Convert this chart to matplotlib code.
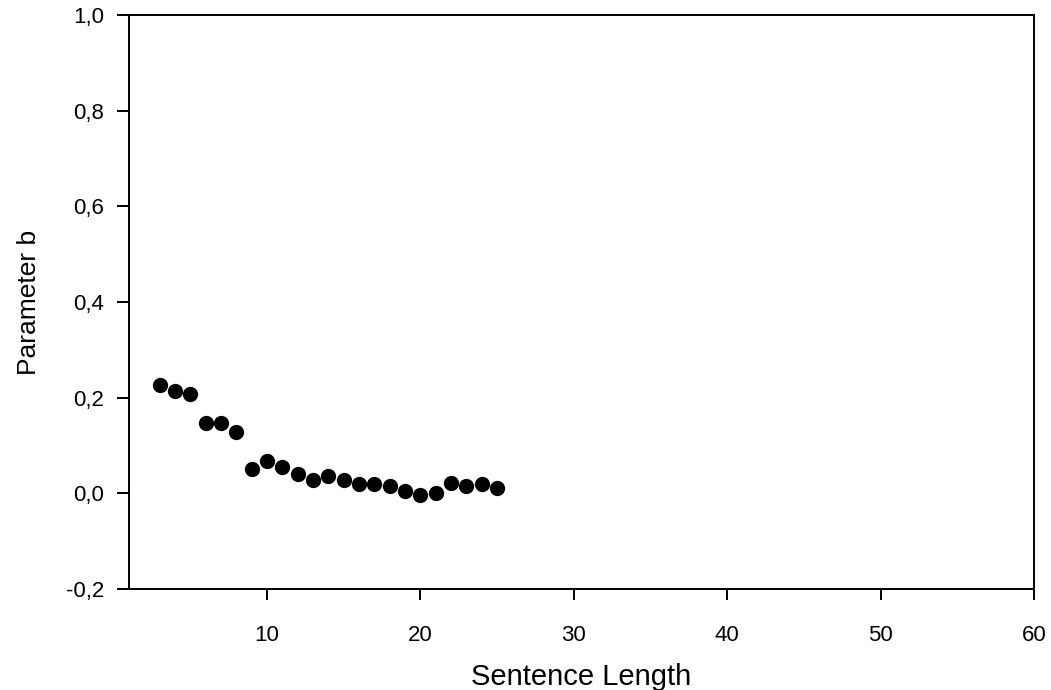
import matplotlib
matplotlib.use("Agg")
import matplotlib.pyplot as plt
from matplotlib.ticker import FuncFormatter

plt.rcParams['font.family'] = ['Liberation Sans', 'DejaVu Sans']

# Sentence length vs. parameter b
sentence_length = [3, 4, 5, 6, 7, 8, 9, 10, 11, 12, 13, 14, 15, 16, 17, 18, 19, 20, 21, 22, 23, 24, 25]
param_b = [0.227, 0.213, 0.207, 0.148, 0.147, 0.129, 0.051, 0.068, 0.056, 0.041, 0.027, 0.036,
           0.028, 0.020, 0.020, 0.016, 0.004, -0.003, 0.001, 0.022, 0.015, 0.020, 0.012]

x_ticks = [10, 20, 30, 40, 50, 60]
y_ticks = [-0.2, 0.0, 0.2, 0.4, 0.6, 0.8, 1.0]

fig = plt.figure(figsize=(10.51, 6.9), dpi=100)
ax = fig.add_axes([0.1227, 0.1464, 0.8611, 0.8319])

ax.plot(sentence_length, param_b, 'o', color='black', markersize=11, markeredgewidth=0)

ax.set_xlim(1, 60)
ax.set_ylim(-0.2, 1.0)
ax.set_xticks(x_ticks)
ax.set_yticks(y_ticks)
ax.yaxis.set_major_formatter(FuncFormatter(lambda v, p: f"{v:.1f}".replace('.', ',')))

for s in ax.spines.values():
    s.set_linewidth(1.4)

ax.tick_params(axis='x', direction='out', length=8, width=1.4, labelsize=16, pad=18)
ax.tick_params(axis='y', direction='out', length=9, width=1.4, labelsize=16, pad=9)

ax.set_xlabel('Sentence Length', fontsize=21, labelpad=12)
ax.set_ylabel('Parameter b', fontsize=19, labelpad=18)

fig.savefig('out.png', dpi=100)
